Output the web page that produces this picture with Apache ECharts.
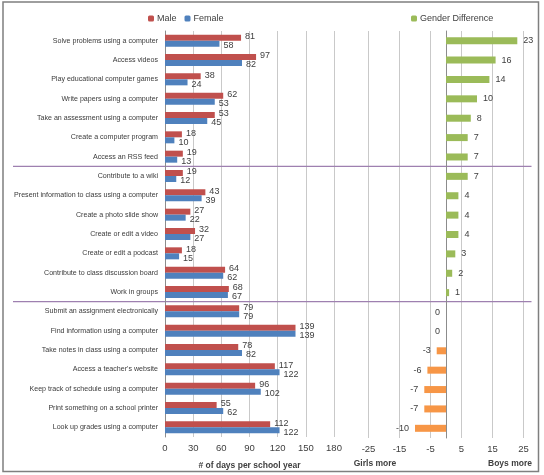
<!DOCTYPE html>
<html>
<head>
<meta charset="utf-8">
<script src="https://cdn.jsdelivr.net/npm/echarts@6/dist/echarts.min.js"></script>
<style>
  html, body { margin: 0; padding: 0; background: #fff; }
  #chart { width: 544px; height: 475px; }
</style>
</head>
<body>
<div id="chart"></div>
<script>
// activities, top to bottom
const activities = [
  'Solve problems using a computer', 'Access videos', 'Play educational computer games',
  'Write papers using a computer', 'Take an assessment using a computer',
  'Create a computer program', 'Access an RSS feed',
  'Contribute to a wiki', 'Present information to class using a computer',
  'Create a photo slide show', 'Create or edit a video', 'Create or edit a podcast',
  'Contribute to class discussion board', 'Work in groups',
  'Submit an assignment electronically', 'Find information using a computer',
  'Take notes in class using a computer', "Access a teacher's website",
  'Keep track of schedule using a computer', 'Print something on a school printer',
  'Look up grades using a computer'
]
const male = [81, 97, 38, 62, 53, 18, 19, 19, 43, 27, 32, 18, 64, 68, 79, 139, 78, 117, 96, 55, 112]
const female = [58, 82, 24, 53, 45, 10, 13, 12, 39, 22, 27, 15, 62, 67, 79, 139, 82, 122, 102, 62, 122]
const genderDiff = [23, 16, 14, 10, 8, 7, 7, 7, 4, 4, 4, 3, 2, 1, 0, 0, -3, -6, -7, -7, -10]
// section boundaries (after these category indexes)
const sectionBreaks = [6, 13]

const txt = '#404040'
const gridCol = '#c9c9c9'
const axisCol = '#8c8c8c'

let option = {
  backgroundColor: '#fff',
  textStyle: { fontFamily: 'Liberation Sans, Arial, sans-serif' },
  legend: [
    {
      data: ['Male', 'Female'],
      left: 143, top: 9,
      itemWidth: 6, itemHeight: 6, itemGap: 8,
      textStyle: { fontSize: 9, color: txt, padding: [0, 0, 0, -2] }
    },
    {
      data: ['Gender Difference'],
      left: 406, top: 9,
      itemWidth: 6, itemHeight: 6,
      textStyle: { fontSize: 9, color: txt, padding: [0, 0, 0, -2] }
    }
  ],
  grid: [
    { left: 165, right: 210, top: 31, bottom: 37 },
    { left: 368.5, right: 20.5, top: 31, bottom: 37 }
  ],
  xAxis: [
    {
      gridIndex: 0, type: 'value', min: 0, max: 180, interval: 30,
      axisLine: { show: false }, axisTick: { show: false },
      axisLabel: { fontSize: 9.5, color: txt, margin: 6 },
      splitLine: { lineStyle: { color: gridCol } },
      name: '# of days per school year', nameLocation: 'middle', nameGap: 24,
      nameTextStyle: { fontSize: 8.5, fontWeight: 'bold', color: txt }
    },
    {
      gridIndex: 1, type: 'value', min: -25, max: 25, interval: 5,
      axisLine: { show: false }, axisTick: { show: false },
      axisLabel: {
        fontSize: 9.5, color: txt, margin: 6,
        formatter: v => (Math.abs(v) % 10 === 5 ? String(v) : '')
      },
      splitLine: { lineStyle: { color: [gridCol, 'rgba(0,0,0,0)'] } }
    }
  ],
  yAxis: [
    {
      gridIndex: 0, type: 'category', data: activities, inverse: true,
      axisLine: { lineStyle: { color: axisCol } },
      axisTick: { length: 3, lineStyle: { color: axisCol } },
      axisLabel: { fontSize: 7.1, color: '#3a3a3a', margin: 7 }
    },
    {
      gridIndex: 1, type: 'category', data: activities, inverse: true,
      axisLine: { onZero: true, lineStyle: { color: axisCol } },
      axisTick: { length: 3, lineStyle: { color: axisCol } },
      axisLabel: { show: false }
    }
  ],
  series: [
    {
      name: 'Male', type: 'bar', xAxisIndex: 0, yAxisIndex: 0,
      data: male, barWidth: 6, barGap: '0%',
      itemStyle: { color: '#C0504D' },
      label: { show: true, position: 'right', distance: 4, offset: [0, -1], fontSize: 9, color: txt }
    },
    {
      name: 'Female', type: 'bar', xAxisIndex: 0, yAxisIndex: 0,
      data: female, barWidth: 6, barGap: '0%',
      itemStyle: { color: '#4F81BD' },
      label: { show: true, position: 'right', distance: 4, offset: [0, 2], fontSize: 9, color: txt }
    },
    {
      name: 'Gender Difference', type: 'bar', xAxisIndex: 1, yAxisIndex: 1,
      barWidth: 7,
      itemStyle: { color: '#9BBB59' },
      label: { show: true, distance: 6, fontSize: 9, color: txt },
      data: genderDiff.map(v => ({
        value: v,
        itemStyle: { color: v < 0 ? '#F79646' : '#9BBB59' },
        label: { position: v > 0 ? 'right' : 'left' }
      }))
    }
  ]
}

let myChart = echarts.init(document.getElementById('chart'), null, { renderer: 'canvas' })
myChart.setOption(option)

// separators between sections, frame and side captions
const sepY = sectionBreaks.map(i => {
  const a = myChart.convertToPixel({ yAxisIndex: 0 }, i)
  const b = myChart.convertToPixel({ yAxisIndex: 0 }, i + 1)
  return (a + b) / 2
})
const captionStyle = { fontSize: 8.5, fontWeight: 'bold', fill: txt, textAlign: 'center', fontFamily: 'Liberation Sans, Arial, sans-serif' }
myChart.setOption({
  graphic: [
    { type: 'rect', shape: { x: 3, y: 2, width: 535.5, height: 469.5 }, style: { fill: null, stroke: '#7f7f7f', lineWidth: 1.5 }, silent: true },
    ...sepY.map(y => ({
      type: 'line', shape: { x1: 13, y1: y, x2: 531.5, y2: y },
      style: { stroke: '#9e80b0', lineWidth: 1.2 }, silent: true
    })),
    { type: 'text', x: 375, y: 459, style: Object.assign({ text: 'Girls more' }, captionStyle) },
    { type: 'text', x: 510, y: 459, style: Object.assign({ text: 'Boys more' }, captionStyle) }
  ]
})
</script>
</body>
</html>
